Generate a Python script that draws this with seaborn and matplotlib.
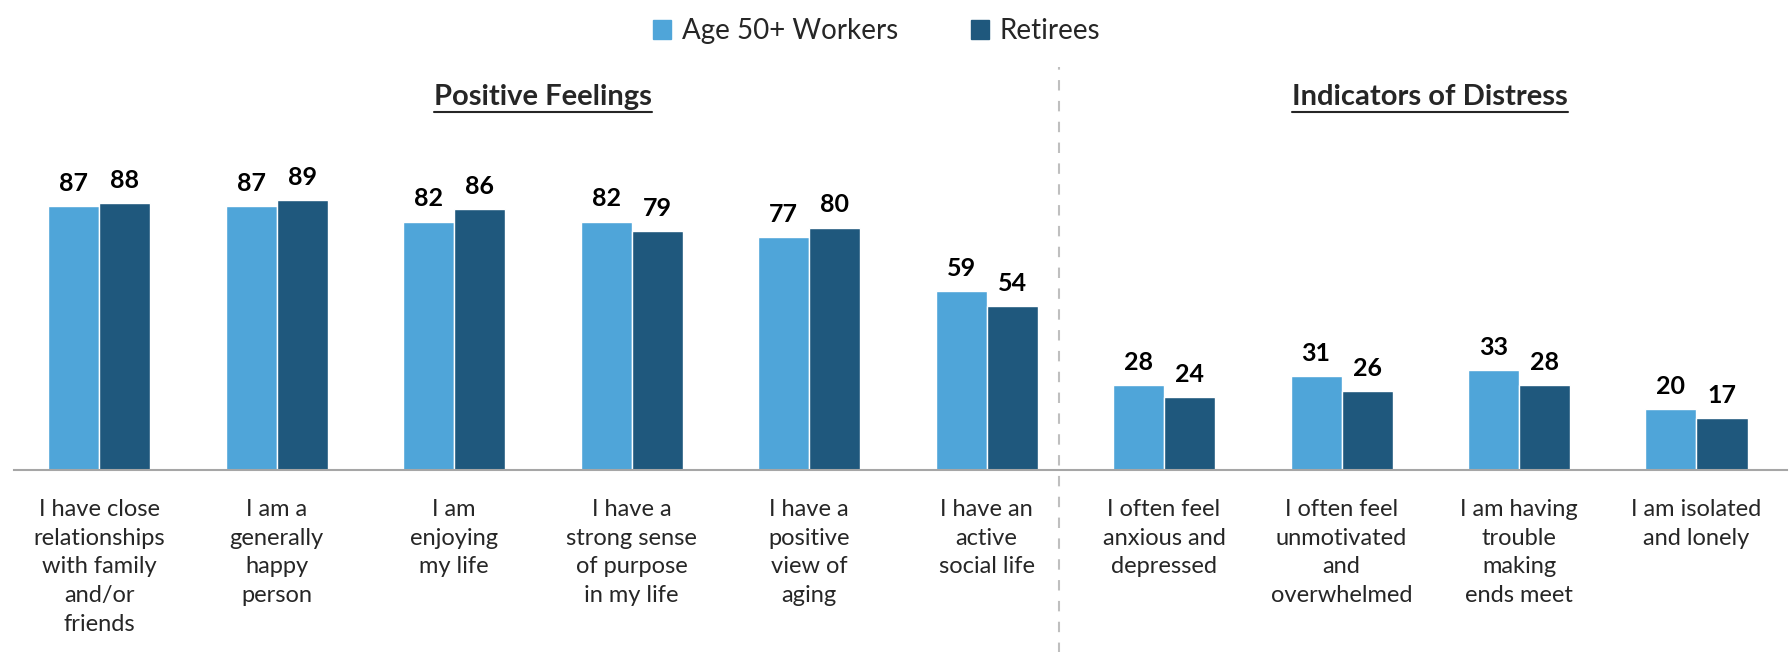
import pandas as pd
import seaborn as sns
import matplotlib.pyplot as plt
from matplotlib.patches import Patch
from matplotlib.lines import Line2D
import matplotlib.transforms as mtransforms

items = [
    "I have close\nrelationships\nwith family\nand/or\nfriends",
    "I am a\ngenerally\nhappy\nperson",
    "I am\nenjoying\nmy life",
    "I have a\nstrong sense\nof purpose\nin my life",
    "I have a\npositive\nview of\naging",
    "I have an\nactive\nsocial life",
    "I often feel\nanxious and\ndepressed",
    "I often feel\nunmotivated\nand\noverwhelmed",
    "I am having\ntrouble\nmaking\nends meet",
    "I am isolated\nand lonely",
]
workers = [87, 87, 82, 82, 77, 59, 28, 31, 33, 20]
retirees = [88, 89, 86, 79, 80, 54, 24, 26, 28, 17]
series = ["Age 50+ Workers", "Retirees"]
colors = ["#4FA5D9", "#1F587D"]

df = pd.DataFrame({
    "item": items * 2,
    "value": workers + retirees,
    "group": [series[0]] * len(items) + [series[1]] * len(items),
})

sns.set_style("white")
plt.rcParams["font.family"] = ["Lato", "DejaVu Sans"]

fig = plt.figure(figsize=(17.89, 6.52), dpi=100)
ax = fig.add_axes([14 / 1789, 182 / 652, 1773 / 1789, 303 / 652])

sns.barplot(data=df, x="item", y="value", hue="group", palette=colors,
            saturation=1, width=0.575, ax=ax, legend=False)

for cont in ax.containers:
    ax.bar_label(cont, fmt="%d", padding=8, fontsize=18, fontweight="bold",
                 color="black")

ax.set_xlim(-0.48, 9.51)
ax.set_ylim(0, 100)
ax.set_xlabel("")
ax.set_ylabel("")
ax.set_yticks([])
ax.tick_params(axis="x", length=0, pad=21, labelsize=17)
for lab in ax.get_xticklabels():
    lab.set_linespacing(1.45)
for s in ["top", "right", "left"]:
    ax.spines[s].set_visible(False)
ax.spines["bottom"].set_color("#A6A6A6")
ax.spines["bottom"].set_linewidth(1.5)

# dashed divider between the two sections
trans = mtransforms.blended_transform_factory(ax.transData, ax.transAxes)
ax.plot([5.41, 5.41], [-0.61, 1.33], transform=trans, clip_on=False,
        color="#BFBFBF", lw=1.5, ls=(0, (5, 5)))

titles = [(2.5, "Positive Feelings"), (7.5, "Indicators of Distress")]
title_objs = []
for xpos, txt in titles:
    t = ax.text(xpos, 1.23, txt, transform=trans, ha="center", va="center",
                fontsize=21, fontweight="bold", color="#262626")
    title_objs.append(t)

handles = [Patch(color=c, label=s) for c, s in zip(colors, series)]
fig.legend(handles=handles, loc="upper center", bbox_to_anchor=(0.49, 1.01),
           ncol=2, frameon=False, fontsize=20, handlelength=0.65,
           handleheight=0.65, handletextpad=0.4, columnspacing=2.6)

# underline the section titles
fig.canvas.draw()
for t in title_objs:
    bb = t.get_window_extent()
    y = (bb.y0 - 2) / fig.bbox.height
    fig.add_artist(Line2D([bb.x0 / fig.bbox.width, bb.x1 / fig.bbox.width],
                          [y, y], color="#262626", lw=1.5))

fig.savefig("out.png", dpi=100)
